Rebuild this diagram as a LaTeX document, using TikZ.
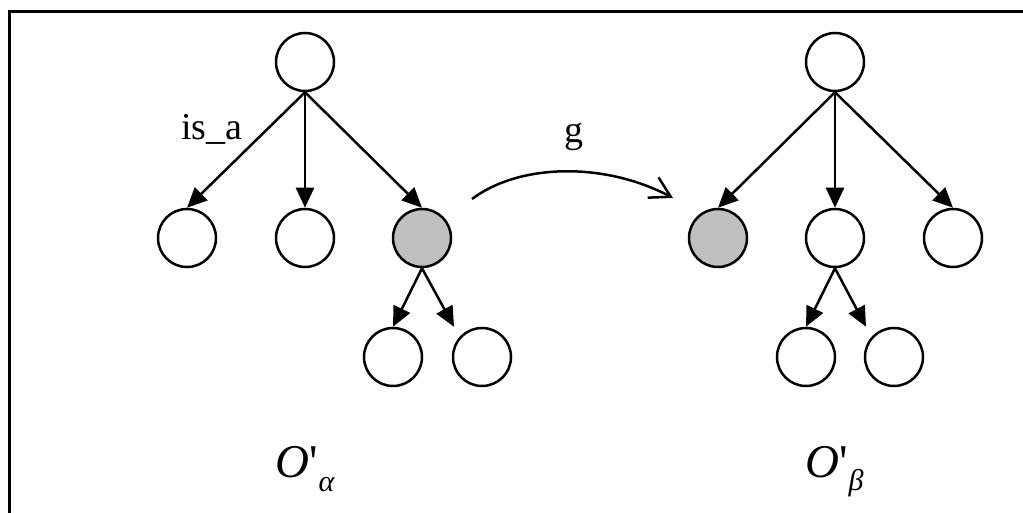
\documentclass[tikz,border=0pt]{standalone}
\usepackage{fontspec}
\setmainfont{Liberation Serif}
\usetikzlibrary{arrows.meta,calc}
\definecolor{nodegray}{HTML}{C0C0C0}
\tikzset{
  cnode/.style={circle,draw=black,line width=2.5pt,minimum size=58pt,inner sep=0pt,fill=white},
  gnode/.style={cnode,fill=nodegray},
  isa/.style={line width=2.5pt,-{Triangle[length=20pt,width=18pt]}},
  maparrow/.style={line width=2.5pt,-{Straight Barb[length=20pt,width=23pt,line width=2.5pt]}},
  lbl/.style={font=\fontsize{38}{38}\selectfont,inner sep=0pt},
  olbl/.style={anchor=base west,inner sep=0pt,font=\fontsize{47}{47}\selectfont},
  frame/.style={line width=3pt}
}
\begin{document}
\begin{tikzpicture}[x=1pt,y=-1pt]
\useasboundingbox (0,0) rectangle (1023,513);
\fill[white] (0,0) rectangle (1023,513);
\coordinate (ftr) at (1023,12);
\coordinate (ftl) at (9,12);
\coordinate (fbl) at (9,513);
\draw[frame] (ftr) -- (ftl) -- (fbl);
% left tree
\node[cnode] (ar) at (305,62) {};
\node[cnode] (a1) at (187,238) {};
\node[cnode] (a2) at (305,238) {};
\node[gnode] (a3) at (422,238) {};
\node[cnode] (a4) at (393,357) {};
\node[cnode] (a5) at (482,357) {};
\draw[isa] (ar.south) -- (a1.north);
\draw[isa] (ar.south) -- (a2.north);
\draw[isa] (ar.south) -- (a3.north);
\draw[isa] (a3.south) -- (a4.north);
\draw[isa] (a3.south) -- ($(a5.north)+(-28,0)$);
% right tree
\node[cnode] (br) at (835,62) {};
\node[gnode] (b1) at (718,238) {};
\node[cnode] (b2) at (835,238) {};
\node[cnode] (b3) at (953,238) {};
\node[cnode] (b4) at (806,357) {};
\node[cnode] (b5) at (894,357) {};
\draw[isa] (br.south) -- (b1.north);
\draw[isa] (br.south) -- (b2.north);
\draw[isa] (br.south) -- (b3.north);
\draw[isa] (b2.south) -- (b4.north);
\draw[isa] (b2.south) -- ($(b5.north)+(-28,0)$);
% mapping arrow
\coordinate (gs) at (472,199);
\coordinate (ge) at (673,198);
\draw[maparrow] (gs) .. controls (520,163) and (605,162) .. (ge);
% labels
\node[lbl,anchor=base west] (lisa) at (181,140) {is\_a};
\node[lbl,anchor=base west] (lg) at (564,143) {g};
\node[olbl] (oa) at (275,477)
  {\textit{O}\textquotesingle\kern1pt\raisebox{-14pt}{\fontsize{30}{30}\selectfont\textit{α}}};
\node[olbl] (ob) at (805,477)
  {\textit{O}\textquotesingle\kern1pt\raisebox{-13pt}{\fontsize{30}{30}\selectfont\textit{β}}};
\end{tikzpicture}
\end{document}
